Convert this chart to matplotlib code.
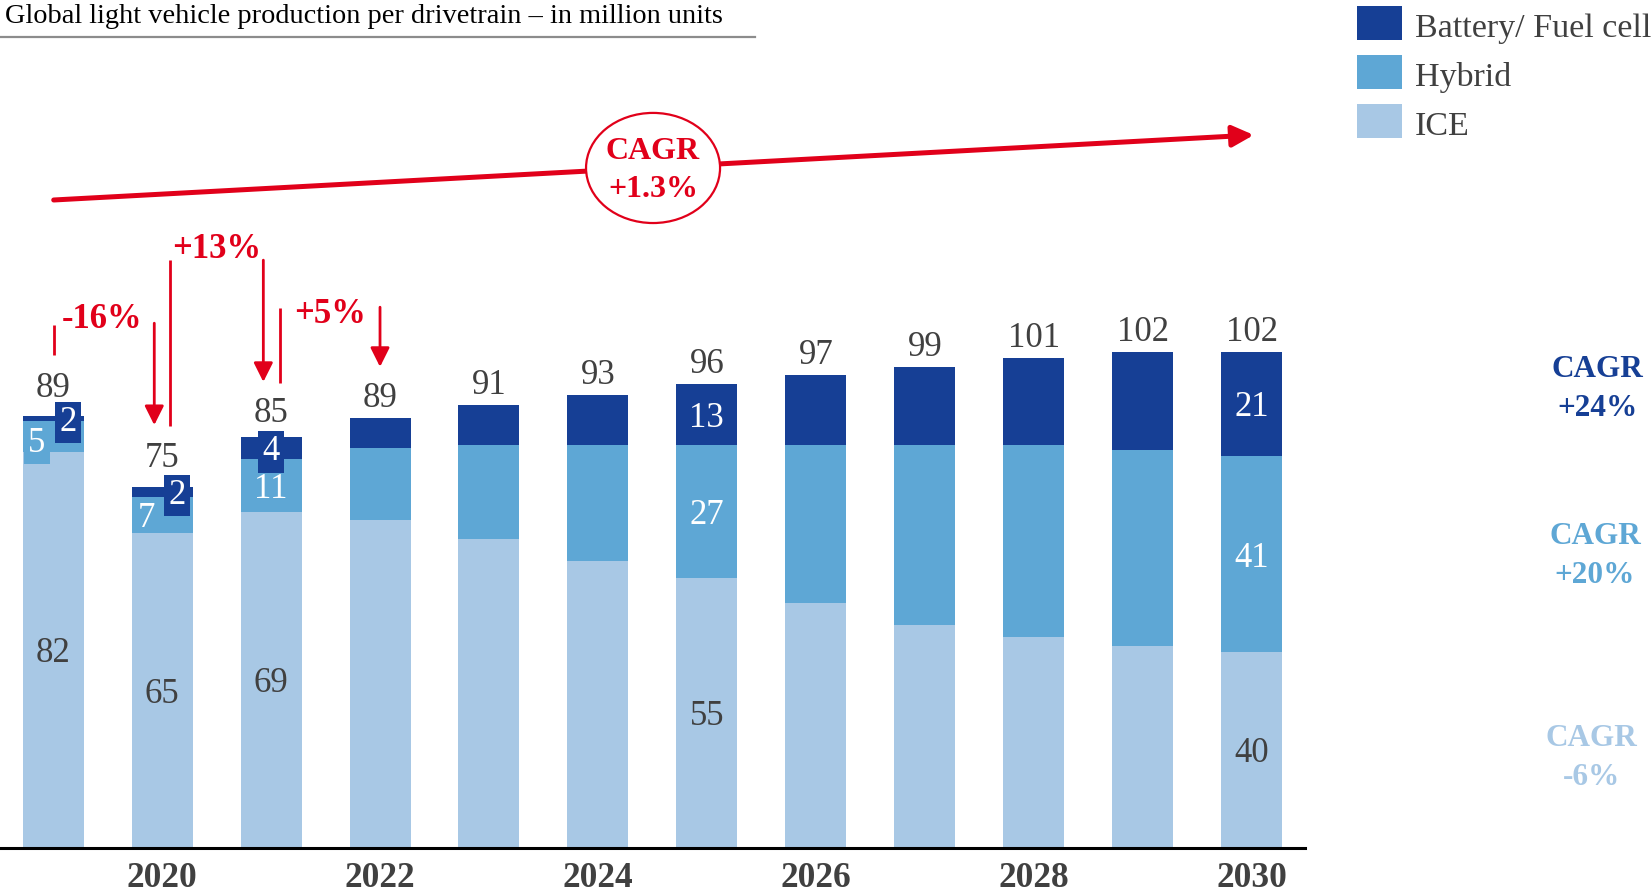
import matplotlib
matplotlib.use('Agg')
import matplotlib.pyplot as plt
from matplotlib.patches import Ellipse, Rectangle
from matplotlib.lines import Line2D

plt.rcParams['font.family'] = ['Liberation Serif', 'DejaVu Serif']

# ---------------- data ----------------
years = list(range(2019, 2031))
ice = [81.6, 64.9, 69.2, 67.5, 63.6, 59.1, 55.6, 50.4, 45.9, 43.4, 41.6, 40.3]
hybrid = [6.4, 7.4, 11.0, 14.8, 19.3, 23.8, 27.3, 32.5, 37.0, 39.5, 40.4, 40.4]
bev = [1.0, 2.1, 4.4, 6.2, 8.3, 10.5, 12.7, 14.5, 16.2, 18.0, 20.2, 21.5]
total_labels = ['89', '75', '85', '89', '91', '93', '96', '97', '99', '101', '102', '102']
ice_labels = {2019: '82', 2020: '65', 2021: '69', 2025: '55', 2030: '40'}
hybrid_labels = {2020: '7', 2021: '11', 2025: '27', 2030: '41'}
bev_labels = {2025: '13', 2030: '21'}
boxed_hybrid_labels = {2019: '5'}
boxed_bev_labels = {2019: '2', 2020: '2', 2021: '4'}
tick_years = [2020, 2022, 2024, 2026, 2028, 2030]
growth_labels = ['-16%', '+13%', '+5%']
cagr_total = 'CAGR\n+1.3%'
cagr_segments = ['CAGR\n+24%', 'CAGR\n+20%', 'CAGR\n-6%']
legend_labels = ['Battery/ Fuel cell', 'Hybrid', 'ICE']
title = 'Global light vehicle production per drivetrain \u2013 in million units'

# ---------------- style ----------------
C_BEV = '#163F95'
C_HYB = '#5EA7D5'
C_ICE = '#A8C8E5'
RED = '#E1001A'
GRAY = '#404040'
W, H = 1651, 896

fig = plt.figure(figsize=(W / 100, H / 100), dpi=100)
ax = fig.add_axes([0, 48.4 / H, 1305 / W, 847.6 / H])
ax.set_xlim(-0.488, 11.49)
ax.set_ylim(0, 847.6 / 4.851)

x = list(range(len(years)))
bw = 0.56
hyb_bottom = ice
bev_bottom = [a + b for a, b in zip(ice, hybrid)]
totals = [a + b + c for a, b, c in zip(ice, hybrid, bev)]

ax.bar(x, ice, bw, color=C_ICE, linewidth=0, zorder=2)
ax.bar(x, hybrid, bw, bottom=hyb_bottom, color=C_HYB, linewidth=0, zorder=2)
ax.bar(x, bev, bw, bottom=bev_bottom, color=C_BEV, linewidth=0, zorder=2)

FS = 25
# totals
total_off = {0: 13.7, 1: 14.4, 2: 11.2}
for i, lab in enumerate(total_labels):
    ax.annotate(lab, (i, totals[i]), xytext=(0, total_off.get(i, 7.9)),
                textcoords='offset points', ha='center', va='baseline',
                fontsize=FS, color=GRAY, zorder=6)

# inner labels
hyb_xoff = {2020: -0.14}
for i, yr in enumerate(years):
    if yr in ice_labels:
        ax.text(i, ice[i] / 2, ice_labels[yr], ha='center', va='center_baseline',
                fontsize=FS, color=GRAY, zorder=4)
    if yr in hybrid_labels:
        ax.text(i + hyb_xoff.get(yr, 0), hyb_bottom[i] + hybrid[i] / 2, hybrid_labels[yr],
                ha='center', va='center_baseline', fontsize=FS, color='white', zorder=4)
    if yr in bev_labels:
        ax.text(i, bev_bottom[i] + bev[i] / 2, bev_labels[yr], ha='center',
                va='center_baseline', fontsize=FS, color='white', zorder=4)
    if yr in boxed_hybrid_labels:
        ax.text(i - 0.149, hyb_bottom[i] + hybrid[i] / 2 - 0.6, boxed_hybrid_labels[yr],
                ha='center', va='center_baseline', fontsize=FS, color='white', zorder=5,
                bbox=dict(boxstyle='square,pad=0.12', fc=C_HYB, ec='none'))
    if yr in boxed_bev_labels:
        xo = 0.0 if yr == 2021 else 0.137
        ax.text(i + xo, bev_bottom[i] + bev[i] / 2, boxed_bev_labels[yr],
                ha='center', va='center_baseline', fontsize=FS, color='white', zorder=5,
                bbox=dict(boxstyle='square,pad=0.12', fc=C_BEV, ec='none'))

# axes styling
for s in ['top', 'right', 'left']:
    ax.spines[s].set_visible(False)
ax.spines['bottom'].set_linewidth(2.2)
ax.spines['bottom'].set_color('black')
ax.spines['bottom'].set_zorder(7)
ax.set_yticks([])
ax.set_xticks([years.index(y) for y in tick_years])
ax.set_xticklabels([str(y) for y in tick_years], fontsize=25.5, fontweight='bold', color=GRAY)
ax.tick_params(axis='x', length=0, pad=10.5)

# ---------------- red growth annotations ----------------
def arrow(x0, y0, x1, y1, lw=2, ms=29):
    ax.annotate('', xy=(x1, y1), xytext=(x0, y0),
                arrowprops=dict(arrowstyle='-|>,head_length=0.4,head_width=0.2',
                                lw=lw, color=RED, mutation_scale=ms,
                                shrinkA=0, shrinkB=0), zorder=6)

ax.plot([0.007, 0.007], [101.5, 107.7], color=RED, lw=2, solid_capstyle='butt', zorder=6)
arrow(0.928, 108.1, 0.928, 87.1)
ax.plot([1.072, 1.072], [86.9, 121.1], color=RED, lw=2, solid_capstyle='butt', zorder=6)
arrow(1.929, 121.1, 1.929, 96.0)
ax.plot([2.082, 2.082], [95.7, 111.2], color=RED, lw=2, solid_capstyle='butt', zorder=6)
arrow(3.0, 111.4, 3.0, 99.1)
for (gx, gy), lab in zip([(0.449, 109.6), (1.503, 124.1), (2.541, 110.7)], growth_labels):
    ax.text(gx, gy, lab, ha='center', va='center_baseline', fontsize=25,
            fontweight='bold', color=RED, zorder=6)

# big CAGR arrow
ax.annotate('', xy=(11.02, 146.9), xytext=(0.005, 133.5),
            arrowprops=dict(arrowstyle='-|>,head_length=0.4,head_width=0.2',
                            lw=3.6, color=RED, mutation_scale=32,
                            shrinkA=0, shrinkB=0), zorder=6)
ax.add_patch(Ellipse((5.506, 140.1), 1.23, 22.7, fc='white', ec=RED, lw=1.6, zorder=7,
                     clip_on=False))
ax.text(5.506, 139.6, cagr_total, ha='center', va='center', fontsize=23,
        fontweight='bold', color=RED, linespacing=1.4, zorder=8)

# ---------------- title ----------------
fig.text(5 / W, 1 - 23 / H, title, ha='left', va='baseline', fontsize=20.4, color='black')
fig.add_artist(Line2D([0, 755 / W], [1 - 37 / H, 1 - 37 / H], color='#8C8C8C', lw=1.6))

# ---------------- legend ----------------
leg_colors = [C_BEV, C_HYB, C_ICE]
leg_tops = [6, 55, 104]
for c, t, lab in zip(leg_colors, leg_tops, legend_labels):
    fig.add_artist(Rectangle((1357 / W, 1 - (t + 34.5) / H), 45 / W, 34.5 / H,
                             fc=c, ec='none', transform=fig.transFigure))
    fig.text(1415 / W, 1 - (t + 17 + 14) / H, lab, ha='left', va='baseline',
             fontsize=24.5, color=GRAY)

# ---------------- segment CAGRs ----------------
for (cx, cy), lab, c in zip([(1597, 389), (1595, 556), (1591, 758)], cagr_segments,
                            [C_BEV, C_HYB, C_ICE]):
    fig.text(cx / W, 1 - cy / H, lab, ha='center', va='center', fontsize=22.5,
             fontweight='bold', color=c, linespacing=1.45)

fig.savefig('out.png', dpi=100, facecolor='white')
